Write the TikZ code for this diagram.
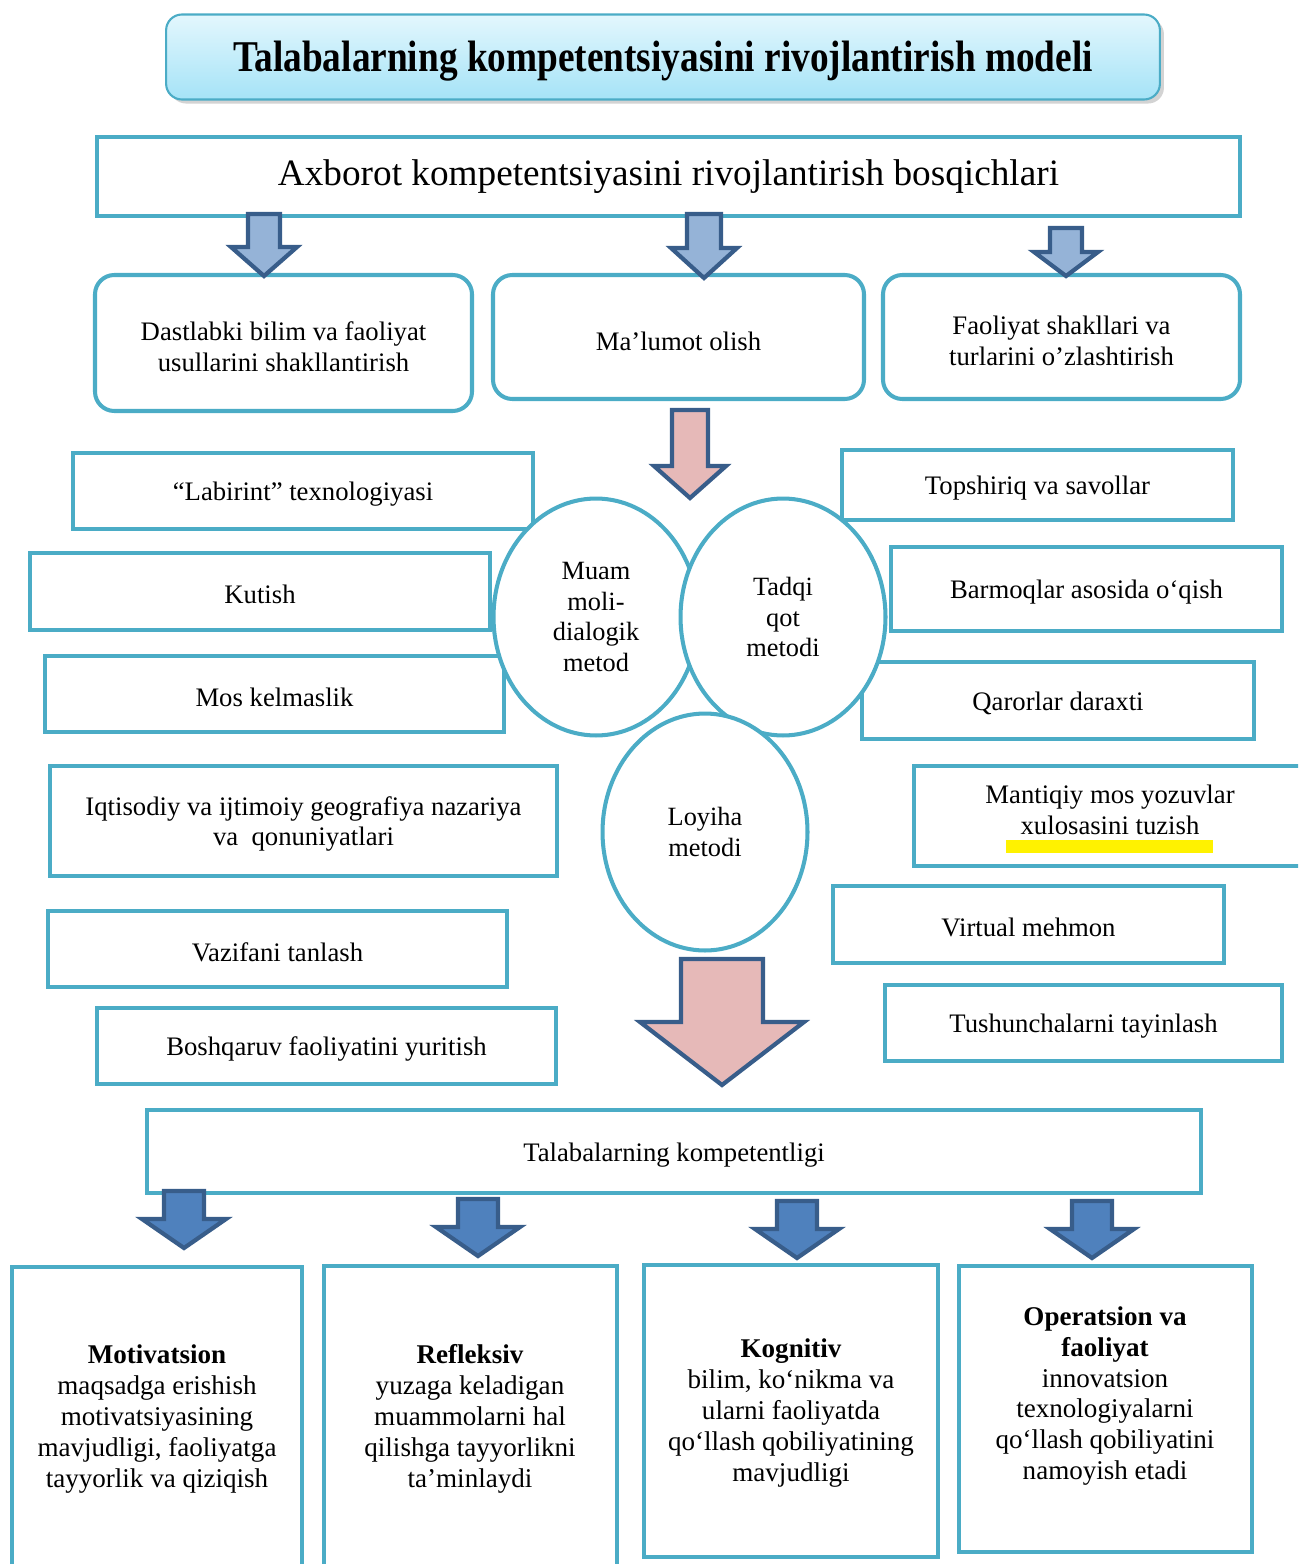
\documentclass[tikz,border=0pt]{standalone}
\usepackage{fontspec}
\setmainfont{Liberation Serif}
\usetikzlibrary{shapes.geometric,shadows}

\definecolor{boxteal}{HTML}{4BACC6}
\definecolor{arrowline}{HTML}{385D8A}
\definecolor{lightblue}{HTML}{95B3D7}
\definecolor{darkblue}{HTML}{4F81BD}
\definecolor{rose}{HTML}{E6B9B8}
\definecolor{titletop}{HTML}{E3F7FD}
\definecolor{titlebot}{HTML}{A5E3F7}

% Blockpfeil: Mitte x, oben, Spitze, halbe Schaftbreite, halbe Kopfbreite, Kopfansatz, Farbe
\newcommand{\blkarrow}[7]{%
  \draw[blockarrow, fill=#7] ({#1-#4},#2) -- ({#1+#4},#2) -- ({#1+#4},#6) -- ({#1+#5},#6)
    -- (#1,#3) -- ({#1-#5},#6) -- ({#1-#4},#6) -- cycle;}

\begin{document}
\begin{tikzpicture}[x=0.02cm, y=-0.02cm,
  box/.style={draw=boxteal, line width=2.3pt, fill=white, align=center, inner sep=0pt,
    font={\fontsize{15.2}{17.6}\selectfont}},
  roundbox/.style={box, rounded corners=11pt},
  method/.style={ellipse, draw=boxteal, line width=2.3pt, fill=white, align=center, inner sep=0pt,
    minimum width=4.1cm, minimum height=4.74cm, font={\fontsize{15}{17.6}\selectfont}},
  boxtext/.style={align=center, inner sep=0pt, font={\fontsize{15.2}{17.6}\selectfont}},
  bottomtext/.style={align=center, inner sep=0pt, font={\fontsize{15.4}{17.6}\selectfont}},
  blockarrow/.style={draw=arrowline, line width=2.4pt, line join=miter}]

  \useasboundingbox (0,0) rectangle (1298,1564);
  \clip (0,0) rectangle (1298,1564);

  % Ueberschrift
  \node[draw=boxteal, line width=1.2pt, rounded corners=9pt, top color=titletop, bottom color=titlebot,
    drop shadow={opacity=0.35}, minimum width=19.88cm, minimum height=1.7cm] (title) at (663,57) {};
  \node[inner sep=0pt] (titletxt) at (663,61)
    {\fontsize{25}{30}\selectfont\resizebox{17.2cm}{\height}{\bfseries Talabalarning kompetentsiyasini rivojlantirish modeli}};

  \node[box, minimum width=22.86cm, minimum height=1.58cm, font={\fontsize{21.2}{25}\selectfont}] (axb) at (668.5,176.5)
    {Axborot kompetentsiyasini rivojlantirish bosqichlari};

  % obere Kaesten
  \foreach \nm/\xa/\ya/\xb/\yb/\txt in {dast/95/275/472/411/{Dastlabki bilim va faoliyat\\usullarini shakllantirish},
                                       mal/493/275/864/399/{Ma’lumot olish},
                                       faol/883/275/1240/399/{Faoliyat shakllari va\\turlarini o’zlashtirish}}
    {
     \node[roundbox, minimum width={(\xb-\xa)*0.02cm}, minimum height={(\yb-\ya)*0.02cm}] (\nm)
       at ({(\xa+\xb)/2},{(\ya+\yb)/2}) {};
     \node[boxtext] (\nm txt) at ({(\xa+\xb)/2},{(\ya+\yb)/2+4}) {\txt};
    };

  % Methoden links und rechts
  \foreach \nm/\xa/\ya/\xb/\yb/\txt in {lab/73/453/533/529/{“Labirint” texnologiyasi},
                                       kut/30/553/490/630/{Kutish},
                                       mos/45/656/504/732/{Mos kelmaslik},
                                       iqt/50/766/557/876/{Iqtisodiy va ijtimoiy geografiya nazariya\\va\ \ qonuniyatlari},
                                       vaz/48/911/507/987/{Vazifani tanlash},
                                       bos/97/1008/556/1084/{Boshqaruv faoliyatini yuritish},
                                       tops/842/450/1233/520/{Topshiriq va savollar},
                                       bar/891/547/1282/631/{Barmoqlar asosida o‘qish},
                                       qar/862/662/1254/739/{Qarorlar daraxti},
                                       vir/833/886/1224/963/{Virtual mehmon},
                                       tus/885/985/1282/1061/{Tushunchalarni tayinlash}}
    {
     \node[box, minimum width={(\xb-\xa)*0.02cm}, minimum height={(\yb-\ya)*0.02cm}] (\nm)
       at ({(\xa+\xb)/2},{(\ya+\yb)/2}) {};
     \node[boxtext] (\nm txt) at ({(\xa+\xb)/2},{(\ya+\yb)/2+3}) {\txt};
    };
  \node[box, minimum width=7.92cm, minimum height=2cm] (man) at (1112,816) {};
  \node[boxtext] (mantxt) at (1110,810) {Mantiqiy mos yozuvlar\\xulosasini tuzish};
  \fill[yellow] (1006,840) rectangle (1213,853);  % Markierung

  % Kreise
  \node[method] (muam) at (596,617) {Muam\\moli-\\dialogik\\metod};
  \node[method] (tadq) at (783,617) {Tadqi\\qot\\metodi};
  \node[method] (loy) at (705,832) {Loyiha\\metodi};

  % Kompetentlik
  \node[box, minimum width=21.08cm, minimum height=1.66cm] (komp) at (674,1151.5) {};
  \node[boxtext] (komptxt) at (674,1155) {Talabalarning kompetentligi};

  \foreach \nm/\xa/\ya/\xb/\yb/\tx/\ty/\txt in {mot/12/1267/302/1590/157/1419/{\textbf{Motivatsion}\\maqsadga erishish\\motivatsiyasining\\mavjudligi, faoliyatga\\tayyorlik va qiziqish},
                                              ref/324/1266/617/1590/470/1419/{\textbf{Refleksiv}\\yuzaga keladigan\\muammolarni hal\\qilishga tayyorlikni\\ta’minlaydi},
                                              kog/644/1265/938/1557/791/1413/{\textbf{Kognitiv}\\bilim, ko‘nikma va\\ularni faoliyatda\\qo‘llash qobiliyatining\\mavjudligi},
                                              ope/959/1266/1252/1552/1105/1396/{\textbf{Operatsion va}\\\textbf{faoliyat}\\innovatsion\\texnologiyalarni\\qo‘llash qobiliyatini\\namoyish etadi}}
    {
     \node[box, minimum width={(\xb-\xa)*0.02cm}, minimum height={(\yb-\ya)*0.02cm}] (\nm)
       at ({(\xa+\xb)/2},{(\ya+\yb)/2}) {};
     \node[bottomtext] (\nm txt) at (\tx,\ty) {\txt};
    };

  % Pfeile
  \blkarrow{264}{214}{276}{16}{33}{247}{lightblue}
  \blkarrow{704}{214}{278}{17}{33}{248}{lightblue}
  \blkarrow{1066}{228}{276}{16}{32}{252}{lightblue}
  \blkarrow{690}{410}{498}{18}{36}{466}{rose}
  \blkarrow{722}{959}{1085}{41}{82}{1022}{rose}
  \foreach \x/\t in {184/1191,478/1199,797/1201,1092/1201}
    \blkarrow{\x}{\t}{\t+57}{20}{42}{\t+28}{darkblue};
\end{tikzpicture}
\end{document}
